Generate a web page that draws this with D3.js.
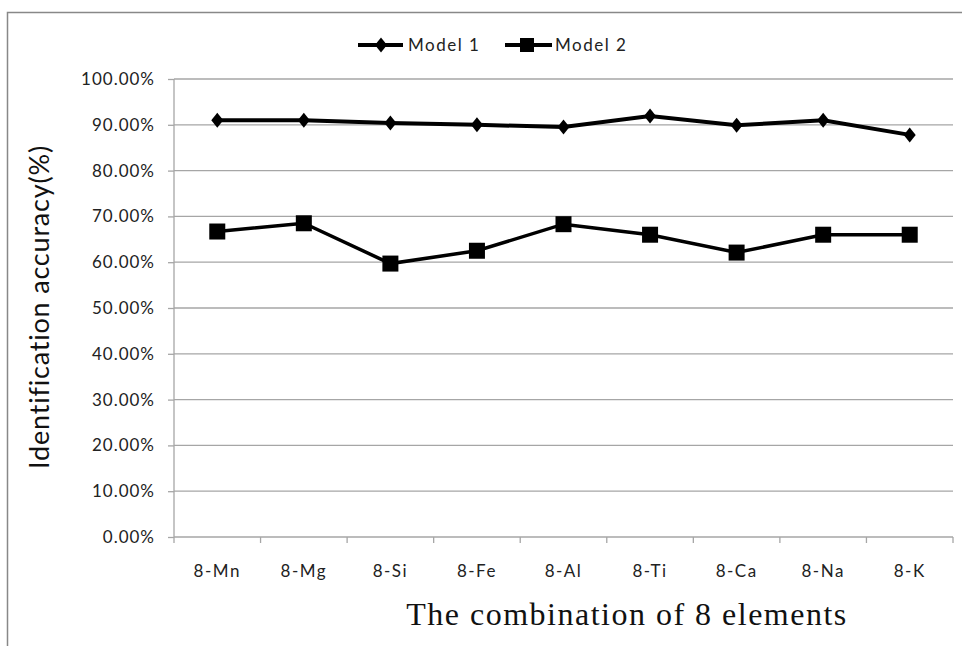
<!DOCTYPE html>
<html><head><meta charset="utf-8">
<script src="https://cdn.jsdelivr.net/npm/d3@7"></script>
<style>body{margin:0;background:#fff}svg{display:block}</style>
</head><body>
<svg id="c" width="962" height="646"></svg>
<script>
const categories = ["8-Mn","8-Mg","8-Si","8-Fe","8-Al","8-Ti","8-Ca","8-Na","8-K"];
const model1 = [0.910, 0.910, 0.904, 0.900, 0.895, 0.919, 0.899, 0.910, 0.878];
const model2 = [0.667, 0.685, 0.597, 0.625, 0.683, 0.660, 0.621, 0.660, 0.660];
const yTicks = [0,0.1,0.2,0.3,0.4,0.5,0.6,0.7,0.8,0.9,1.0];
const seriesNames = ["Model 1","Model 2"];

const svg = d3.select("#c");
const L=174, R=953, T=79, B=537;
const x = d3.scaleBand().domain(categories).range([L,R]);
const y = d3.scaleLinear().domain([0,1]).range([B,T]);
const tickFont = "Lato, 'Open Sans', sans-serif";

// outer border (top + left)
svg.append("path").attr("d","M7.5,646 V12.5 H962").attr("fill","none").attr("stroke","#888").attr("stroke-width",1.5);

// gridlines
svg.append("g").selectAll("line").data(yTicks.filter(d=>d>0)).join("line")
  .attr("x1",L).attr("x2",R).attr("y1",d=>y(d)).attr("y2",d=>y(d))
  .attr("stroke","#a6a6a6").attr("stroke-width",1.3);

// y axis
const ya = svg.append("g").attr("transform",`translate(${L},0)`)
  .call(d3.axisLeft(y).tickValues(yTicks).tickFormat(d3.format(".2%")).tickSize(6).tickPadding(13));
ya.select(".domain").attr("stroke","#a6a6a6").attr("stroke-width",1.3).attr("d",`M0,${T}V${B}`);
ya.selectAll(".tick line").attr("stroke","#a6a6a6").attr("stroke-width",1.3);
ya.selectAll("text").attr("font-family",tickFont).attr("font-size",17).attr("letter-spacing",1).attr("fill","#222");

// x axis
const xa = svg.append("g").attr("transform",`translate(0,${B})`)
  .call(d3.axisBottom(x).tickSize(0).tickPadding(28));
xa.select(".domain").attr("stroke","#a6a6a6").attr("stroke-width",1.3).attr("d",`M${L},0H${R}`);
xa.selectAll("text").attr("font-family",tickFont).attr("font-size",17).attr("letter-spacing",1.5).attr("fill","#222");
xa.selectAll(".sep").data(categories.map((c,i)=>i).concat([categories.length])).join("line")
  .attr("class","sep").attr("x1",i=>L+i*x.step()).attr("x2",i=>L+i*x.step())
  .attr("y1",0).attr("y2",6).attr("stroke","#a6a6a6").attr("stroke-width",1.3);

const cx = d => x(d)+x.bandwidth()/2;
const line = d3.line().x(d=>cx(d[0])).y(d=>y(d[1]));

// model 2
const d2 = categories.map((c,i)=>[c,model2[i]]);
svg.append("path").datum(d2).attr("d",line).attr("fill","none").attr("stroke","#000").attr("stroke-width",3.5);
svg.append("g").selectAll("rect").data(d2).join("rect")
  .attr("x",d=>cx(d[0])-8).attr("y",d=>y(d[1])-8).attr("width",16).attr("height",16).attr("fill","#000");

// model 1
const d1 = categories.map((c,i)=>[c,model1[i]]);
svg.append("path").datum(d1).attr("d",line).attr("fill","none").attr("stroke","#000").attr("stroke-width",4);
const diamond = "M0,-7.5L6,0L0,7.5L-6,0Z";
svg.append("g").selectAll("path").data(d1).join("path")
  .attr("transform",d=>`translate(${cx(d[0])},${y(d[1])})`).attr("d",diamond).attr("fill","#000");

// legend
const lg = svg.append("g").attr("font-family",tickFont).attr("font-size",17).attr("letter-spacing",1.5).attr("fill","#222");
lg.append("line").attr("x1",358).attr("x2",403).attr("y1",45).attr("y2",45).attr("stroke","#000").attr("stroke-width",4);
lg.append("path").attr("transform","translate(381,45)").attr("d",diamond).attr("fill","#000");
lg.append("text").attr("x",408).attr("y",51).text(seriesNames[0]);
lg.append("line").attr("x1",505).attr("x2",552).attr("y1",45).attr("y2",45).attr("stroke","#000").attr("stroke-width",4);
lg.append("rect").attr("x",520).attr("y",38).attr("width",14).attr("height",14).attr("fill","#000");
lg.append("text").attr("x",555).attr("y",51).text(seriesNames[1]);

// axis titles
svg.append("text").attr("transform","translate(49,307) rotate(-90)").attr("text-anchor","middle")
  .attr("font-family",tickFont).attr("font-size",27).attr("letter-spacing",0.8).attr("fill","#111").text("Identification accuracy(%)");
svg.append("text").attr("x",627).attr("y",625).attr("text-anchor","middle")
  .attr("font-family","'Liberation Serif', serif").attr("font-size",32).attr("letter-spacing",1.5).attr("fill","#111").text("The combination of 8 elements");
</script>
</body></html>
